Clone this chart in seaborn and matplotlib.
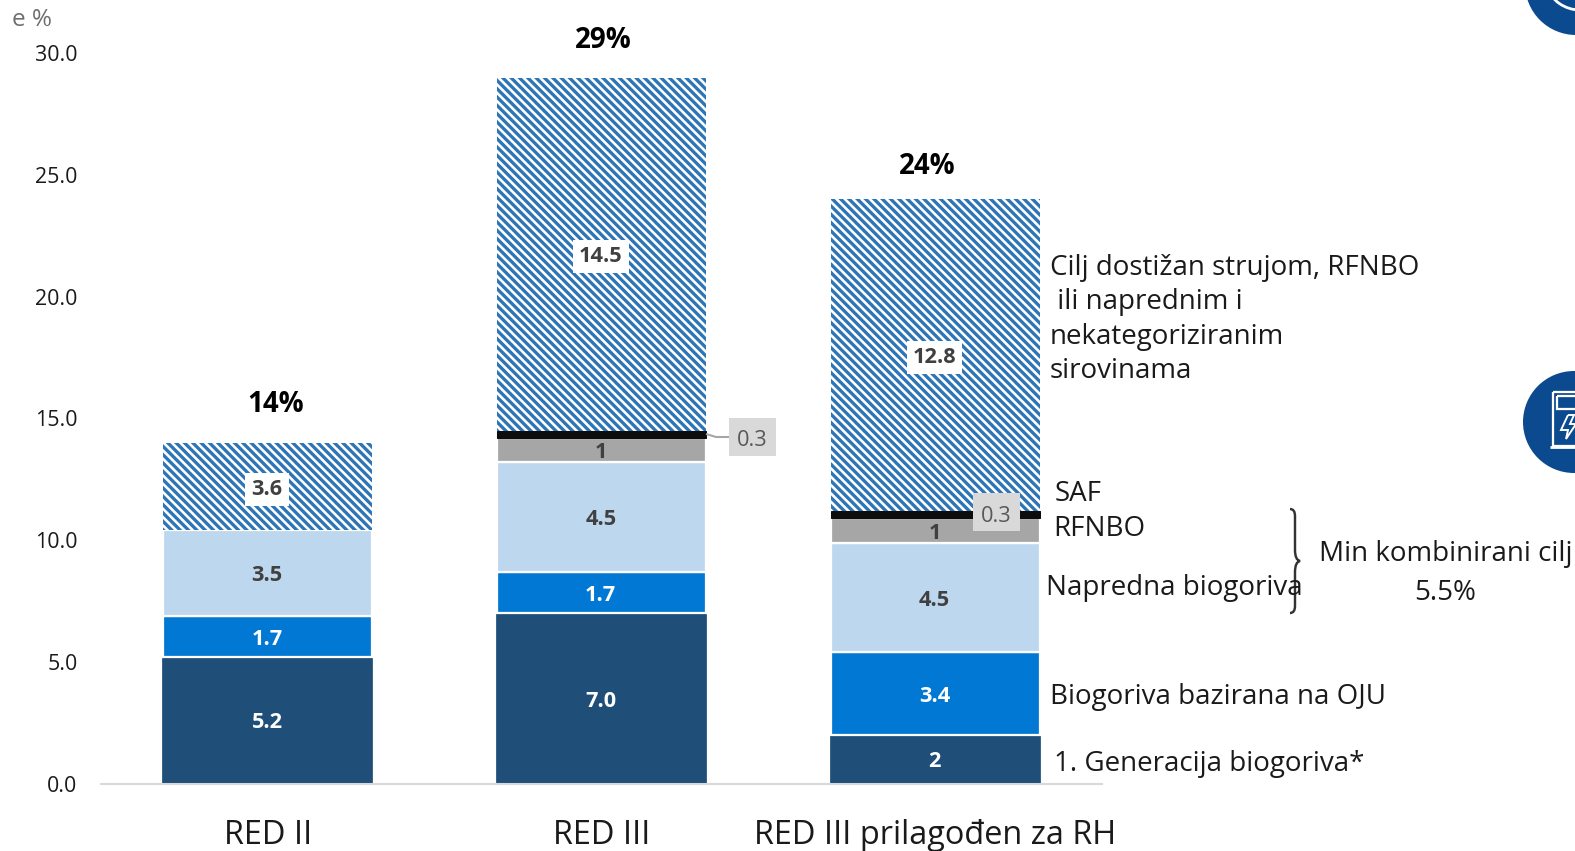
import numpy as np
import pandas as pd
import seaborn as sns
import matplotlib.pyplot as plt
from matplotlib.patches import Circle, Rectangle, PathPatch, Arc
from matplotlib.path import Path
from matplotlib.transforms import IdentityTransform

W, H = 1575, 851
DPI = 125

plans = ['RED II', 'RED III', 'RED III prilagođen za RH']
prva_generacija = [5.2, 7.0, 2.0]
oju = [1.7, 1.7, 3.4]
napredna = [3.5, 4.5, 4.5]
rfnbo = [0, 1.0, 1.0]
saf = [0, 0.3, 0.3]
struja = [3.6, 14.5, 12.8]

lab_prva = ['5.2', '7.0', '2']
lab_oju = ['1.7', '1.7', '3.4']
lab_napredna = ['3.5', '4.5', '4.5']
lab_rfnbo = ['1', '1']
lab_struja = ['3.6', '14.5', '12.8']
totals = ['14%', '29%', '24%']

yticks = [0, 5, 10, 15, 20, 25, 30]

sns.set_theme(style='white')
plt.rcParams['font.family'] = ['Open Sans', 'DejaVu Sans']
plt.rcParams['hatch.linewidth'] = 1.9

fig = plt.figure(figsize=(W / DPI, H / DPI), dpi=DPI)
ax = fig.add_axes([101 / W, 1 - 783.5 / H, 1001 / W, 730.3 / H])

df = pd.DataFrame({'plan': plans, 'prva': prva_generacija, 'oju': oju, 'napredna': napredna,
                   'rfnbo': rfnbo, 'saf': saf, 'struja': struja})

segments = [
    ('prva', '#1F4E79', '#1F4E79', 1.0, None),
    ('oju', '#0078D4', 'white', 1.3, None),
    ('napredna', '#BDD7EE', 'white', 1.3, None),
    ('rfnbo', '#A6A6A6', 'white', 1.3, None),
    ('saf', '#0D0D0D', '#0D0D0D', 0.6, None),
    ('struja', 'white', '#2E75B6', 0, '\\\\\\\\\\'),
]

base = np.zeros(len(plans))
for name, color, edge, lw, hatch in segments:
    sub = df[df[name] > 0]
    sns.barplot(data=sub, x='plan', y=name, order=plans, color=color, saturation=1, width=0.627,
                bottom=base[sub.index], edgecolor=edge, linewidth=lw, hatch=hatch, errorbar=None, ax=ax)
    base += df[name].values

conts = ax.containers
labels = []
labels += ax.bar_label(conts[0], labels=lab_prva, label_type='center', color='white', fontsize=12.5, fontweight='bold')
labels += ax.bar_label(conts[1], labels=lab_oju, label_type='center', color='white', fontsize=12.5, fontweight='bold')
labels += ax.bar_label(conts[2], labels=lab_napredna, label_type='center', color='#404040', fontsize=12.5, fontweight='bold')
labels += ax.bar_label(conts[3], labels=lab_rfnbo, label_type='center', color='#404040', fontsize=12.5, fontweight='bold')
labels += ax.bar_label(conts[5], labels=lab_struja, label_type='center', color='#404040', fontsize=12.5, fontweight='bold',
                       bbox=dict(facecolor='white', edgecolor='none', pad=3.5))
for a in labels:
    a.xyann = (-0.4, -1.6)

ax.set_xlim(-0.5, 2.5)
ax.set_ylim(0, 30)
ax.set_yticks(yticks)
ax.set_yticklabels([f'{t:.1f}' for t in yticks], fontsize=12.3, color='#1a1a1a', va='center_baseline')
ax.set_xticks(range(3))
ax.set_xticklabels(plans, fontsize=18.7, color='#1a1a1a')
ax.tick_params(axis='x', length=0, pad=20.5)
ax.tick_params(axis='y', length=0, pad=13.5)
ax.set_xlabel('')
ax.set_ylabel('')
for s in ['top', 'left', 'right']:
    ax.spines[s].set_visible(False)
ax.spines['bottom'].set_color('#D9D9D9')
ax.spines['bottom'].set_linewidth(1.2)


def px_text(x, y, s, **kw):
    # koordinate u pikselima, ishodiste gore lijevo
    kw.setdefault('va', 'center')
    kw.setdefault('color', '#1a1a1a')
    kw.setdefault('fontsize', 16)
    fig.text(x / W, 1 - y / H, s, **kw)


def px(x, y):
    return (x, H - y)


px_text(32, 20, 'e %', color='#6e6e6e', ha='center', fontsize=14)
px_text(276, 405, totals[0], ha='center', fontweight='bold', color='black', fontsize=16)
px_text(603, 41, totals[1], ha='center', fontweight='bold', color='black', fontsize=16)
px_text(927, 167, totals[2], ha='center', fontweight='bold', color='black', fontsize=16)

px_text(1050, 268, 'Cilj dostižan strujom, RFNBO')
px_text(1050, 302, ' ili naprednim i')
px_text(1050, 337, 'nekategoriziranim')
px_text(1050, 371, 'sirovinama')
px_text(1055, 494, 'SAF')
px_text(1053, 529, 'RFNBO')
px_text(1046, 588, 'Napredna biogoriva')
px_text(1050, 697, 'Biogoriva bazirana na OJU')
px_text(1054, 764, '1. Generacija biogoriva*')
px_text(1319, 554, 'Min kombinirani cilj', fontsize=16)
px_text(1445, 593, '5.5%', ha='center')

# oznake 0.3
fig.add_artist(Rectangle(px(729, 456), 47, 38, transform=IdentityTransform(), facecolor='#D9D9D9', edgecolor='none'))
px_text(752, 441, '0.3', ha='center', color='#595959', fontsize=12.5)
fig.add_artist(Rectangle(px(973, 531), 47, 38, transform=IdentityTransform(), facecolor='#D9D9D9', edgecolor='none'))
px_text(996, 516, '0.3', ha='center', color='#595959', fontsize=12.5)
leader = Path([px(706, 434), px(716, 437), px(729, 437)])
fig.add_artist(PathPatch(leader, transform=IdentityTransform(), fill=False, edgecolor='#A6A6A6', linewidth=1.2))

# viticasta zagrada
brace = Path([px(1290, 509), px(1295, 509), px(1295, 516), px(1295, 550), px(1295, 560), px(1300, 561),
              px(1295, 562), px(1295, 572), px(1295, 606), px(1295, 613), px(1290, 613)],
             [Path.MOVETO, Path.CURVE3, Path.CURVE3, Path.LINETO, Path.CURVE3, Path.CURVE3,
              Path.CURVE3, Path.CURVE3, Path.LINETO, Path.CURVE3, Path.CURVE3])
fig.add_artist(PathPatch(brace, transform=IdentityTransform(), fill=False, edgecolor='#333333', linewidth=1.4))

# ikone desno
fig.add_artist(Circle(px(1576, -16), 51, transform=IdentityTransform(), facecolor='#0B4A8F', edgecolor='none'))
fig.add_artist(Arc(px(1580, -26), 72, 72, theta1=200, theta2=340, transform=IdentityTransform(),
                   edgecolor='white', linewidth=1.6))
fig.add_artist(Circle(px(1574, 422), 51, transform=IdentityTransform(), facecolor='#0B4A8F', edgecolor='none'))
pump = Path([px(1553, 392), px(1600, 392), px(1600, 446), px(1553, 446), px(1553, 392)])
fig.add_artist(PathPatch(pump, transform=IdentityTransform(), fill=False, edgecolor='white', linewidth=1.3))
okno = Path([px(1557, 396), px(1600, 396), px(1600, 409), px(1557, 409), px(1557, 396)])
fig.add_artist(PathPatch(okno, transform=IdentityTransform(), fill=False, edgecolor='white', linewidth=1.3))
baza = Path([px(1550, 447), px(1600, 447)])
fig.add_artist(PathPatch(baza, transform=IdentityTransform(), fill=False, edgecolor='white', linewidth=1.6))
munja = Path([px(1568, 415), px(1561, 430), px(1568, 430), px(1566, 439), px(1576, 424), px(1570, 424), px(1574, 415), px(1568, 415)])
fig.add_artist(PathPatch(munja, transform=IdentityTransform(), fill=False, edgecolor='white', linewidth=1.1))

fig.savefig('out.png', dpi=DPI, facecolor='white')
